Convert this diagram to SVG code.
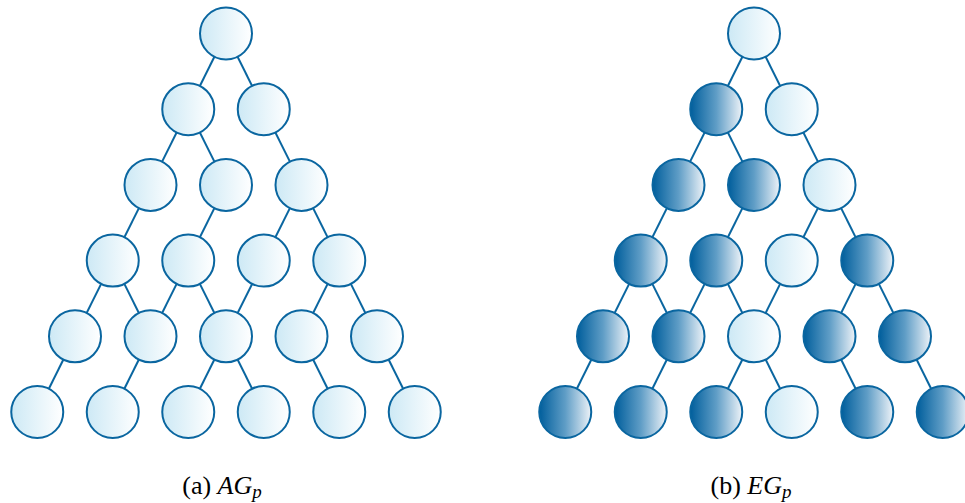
<svg xmlns="http://www.w3.org/2000/svg" width="965" height="503" viewBox="0 0 965 503">
  <defs>
    <linearGradient id="gLight" x1="0" y1="0" x2="1" y2="0">
      <stop offset="0" stop-color="#cde9f5"/>
      <stop offset="1" stop-color="#ffffff"/>
    </linearGradient>
    <linearGradient id="gDark" x1="0" y1="0" x2="1" y2="0">
      <stop offset="0" stop-color="#005e9c"/>
      <stop offset="0.5" stop-color="#5f9dc6"/>
      <stop offset="1" stop-color="#eef3f8"/>
    </linearGradient>
  </defs>
  <style>
    .edge { stroke: #0a66a0; stroke-width: 2; fill: none; }
    .node circle { stroke: #0a66a0; stroke-width: 2; }
    .light circle { fill: url(#gLight); }
    .dark circle { fill: url(#gDark); }
    .cap { font-family: "Liberation Serif", "Times New Roman", serif; font-size: 26px; fill: #000; }
    .it { font-style: italic; }
  </style>

  <g id="connectors">
    <!-- left panel -->
    <line class="edge" x1="226" y1="33.5" x2="188.25" y2="109.2"/>
    <line class="edge" x1="226" y1="33.5" x2="263.75" y2="109.2"/>
    <line class="edge" x1="188.25" y1="109.2" x2="150.5" y2="184.9"/>
    <line class="edge" x1="188.25" y1="109.2" x2="226" y2="184.9"/>
    <line class="edge" x1="263.75" y1="109.2" x2="301.5" y2="184.9"/>
    <line class="edge" x1="150.5" y1="184.9" x2="112.75" y2="260.6"/>
    <line class="edge" x1="226" y1="184.9" x2="188.25" y2="260.6"/>
    <line class="edge" x1="301.5" y1="184.9" x2="263.75" y2="260.6"/>
    <line class="edge" x1="301.5" y1="184.9" x2="339.25" y2="260.6"/>
    <line class="edge" x1="112.75" y1="260.6" x2="75" y2="336.3"/>
    <line class="edge" x1="112.75" y1="260.6" x2="150.5" y2="336.3"/>
    <line class="edge" x1="188.25" y1="260.6" x2="150.5" y2="336.3"/>
    <line class="edge" x1="188.25" y1="260.6" x2="226" y2="336.3"/>
    <line class="edge" x1="263.75" y1="260.6" x2="226" y2="336.3"/>
    <line class="edge" x1="339.25" y1="260.6" x2="301.5" y2="336.3"/>
    <line class="edge" x1="339.25" y1="260.6" x2="377" y2="336.3"/>
    <line class="edge" x1="75" y1="336.3" x2="37.25" y2="412"/>
    <line class="edge" x1="150.5" y1="336.3" x2="112.75" y2="412"/>
    <line class="edge" x1="226" y1="336.3" x2="188.25" y2="412"/>
    <line class="edge" x1="226" y1="336.3" x2="263.75" y2="412"/>
    <line class="edge" x1="301.5" y1="336.3" x2="339.25" y2="412"/>
    <line class="edge" x1="377" y1="336.3" x2="414.75" y2="412"/>
    <!-- right panel -->
    <line class="edge" x1="754" y1="33.5" x2="716.25" y2="109.2"/>
    <line class="edge" x1="754" y1="33.5" x2="791.75" y2="109.2"/>
    <line class="edge" x1="716.25" y1="109.2" x2="678.5" y2="184.9"/>
    <line class="edge" x1="716.25" y1="109.2" x2="754" y2="184.9"/>
    <line class="edge" x1="791.75" y1="109.2" x2="829.5" y2="184.9"/>
    <line class="edge" x1="678.5" y1="184.9" x2="640.75" y2="260.6"/>
    <line class="edge" x1="754" y1="184.9" x2="716.25" y2="260.6"/>
    <line class="edge" x1="829.5" y1="184.9" x2="791.75" y2="260.6"/>
    <line class="edge" x1="829.5" y1="184.9" x2="867.25" y2="260.6"/>
    <line class="edge" x1="640.75" y1="260.6" x2="603" y2="336.3"/>
    <line class="edge" x1="640.75" y1="260.6" x2="678.5" y2="336.3"/>
    <line class="edge" x1="716.25" y1="260.6" x2="678.5" y2="336.3"/>
    <line class="edge" x1="716.25" y1="260.6" x2="754" y2="336.3"/>
    <line class="edge" x1="791.75" y1="260.6" x2="754" y2="336.3"/>
    <line class="edge" x1="867.25" y1="260.6" x2="829.5" y2="336.3"/>
    <line class="edge" x1="867.25" y1="260.6" x2="905" y2="336.3"/>
    <line class="edge" x1="603" y1="336.3" x2="565.25" y2="412"/>
    <line class="edge" x1="678.5" y1="336.3" x2="640.75" y2="412"/>
    <line class="edge" x1="754" y1="336.3" x2="716.25" y2="412"/>
    <line class="edge" x1="754" y1="336.3" x2="791.75" y2="412"/>
    <line class="edge" x1="829.5" y1="336.3" x2="867.25" y2="412"/>
    <line class="edge" x1="905" y1="336.3" x2="942.75" y2="412"/>
  </g>

  <!-- left panel nodes (AG_p) -->
  <g id="a-0-0" class="node light"><circle cx="226" cy="33.5" r="26"/></g>
  <g id="a-1-0" class="node light"><circle cx="188.25" cy="109.2" r="26"/></g>
  <g id="a-1-1" class="node light"><circle cx="263.75" cy="109.2" r="26"/></g>
  <g id="a-2-0" class="node light"><circle cx="150.5" cy="184.9" r="26"/></g>
  <g id="a-2-1" class="node light"><circle cx="226" cy="184.9" r="26"/></g>
  <g id="a-2-2" class="node light"><circle cx="301.5" cy="184.9" r="26"/></g>
  <g id="a-3-0" class="node light"><circle cx="112.75" cy="260.6" r="26"/></g>
  <g id="a-3-1" class="node light"><circle cx="188.25" cy="260.6" r="26"/></g>
  <g id="a-3-2" class="node light"><circle cx="263.75" cy="260.6" r="26"/></g>
  <g id="a-3-3" class="node light"><circle cx="339.25" cy="260.6" r="26"/></g>
  <g id="a-4-0" class="node light"><circle cx="75" cy="336.3" r="26"/></g>
  <g id="a-4-1" class="node light"><circle cx="150.5" cy="336.3" r="26"/></g>
  <g id="a-4-2" class="node light"><circle cx="226" cy="336.3" r="26"/></g>
  <g id="a-4-3" class="node light"><circle cx="301.5" cy="336.3" r="26"/></g>
  <g id="a-4-4" class="node light"><circle cx="377" cy="336.3" r="26"/></g>
  <g id="a-5-0" class="node light"><circle cx="37.25" cy="412" r="26"/></g>
  <g id="a-5-1" class="node light"><circle cx="112.75" cy="412" r="26"/></g>
  <g id="a-5-2" class="node light"><circle cx="188.25" cy="412" r="26"/></g>
  <g id="a-5-3" class="node light"><circle cx="263.75" cy="412" r="26"/></g>
  <g id="a-5-4" class="node light"><circle cx="339.25" cy="412" r="26"/></g>
  <g id="a-5-5" class="node light"><circle cx="414.75" cy="412" r="26"/></g>

  <!-- right panel nodes (EG_p) -->
  <g id="b-0-0" class="node light"><circle cx="754" cy="33.5" r="26"/></g>
  <g id="b-1-0" class="node dark"><circle cx="716.25" cy="109.2" r="26"/></g>
  <g id="b-1-1" class="node light"><circle cx="791.75" cy="109.2" r="26"/></g>
  <g id="b-2-0" class="node dark"><circle cx="678.5" cy="184.9" r="26"/></g>
  <g id="b-2-1" class="node dark"><circle cx="754" cy="184.9" r="26"/></g>
  <g id="b-2-2" class="node light"><circle cx="829.5" cy="184.9" r="26"/></g>
  <g id="b-3-0" class="node dark"><circle cx="640.75" cy="260.6" r="26"/></g>
  <g id="b-3-1" class="node dark"><circle cx="716.25" cy="260.6" r="26"/></g>
  <g id="b-3-2" class="node light"><circle cx="791.75" cy="260.6" r="26"/></g>
  <g id="b-3-3" class="node dark"><circle cx="867.25" cy="260.6" r="26"/></g>
  <g id="b-4-0" class="node dark"><circle cx="603" cy="336.3" r="26"/></g>
  <g id="b-4-1" class="node dark"><circle cx="678.5" cy="336.3" r="26"/></g>
  <g id="b-4-2" class="node light"><circle cx="754" cy="336.3" r="26"/></g>
  <g id="b-4-3" class="node dark"><circle cx="829.5" cy="336.3" r="26"/></g>
  <g id="b-4-4" class="node dark"><circle cx="905" cy="336.3" r="26"/></g>
  <g id="b-5-0" class="node dark"><circle cx="565.25" cy="412" r="26"/></g>
  <g id="b-5-1" class="node dark"><circle cx="640.75" cy="412" r="26"/></g>
  <g id="b-5-2" class="node dark"><circle cx="716.25" cy="412" r="26"/></g>
  <g id="b-5-3" class="node light"><circle cx="791.75" cy="412" r="26"/></g>
  <g id="b-5-4" class="node dark"><circle cx="867.25" cy="412" r="26"/></g>
  <g id="b-5-5" class="node dark"><circle cx="942.75" cy="412" r="26"/></g>

  <!-- captions -->
  <text class="cap" x="222" y="494" text-anchor="middle">(a) <tspan class="it">AG</tspan><tspan class="it" font-size="19" dy="4">p</tspan></text>
  <text class="cap" x="751" y="494" text-anchor="middle">(b) <tspan class="it">EG</tspan><tspan class="it" font-size="19" dy="4">p</tspan></text>
</svg>
